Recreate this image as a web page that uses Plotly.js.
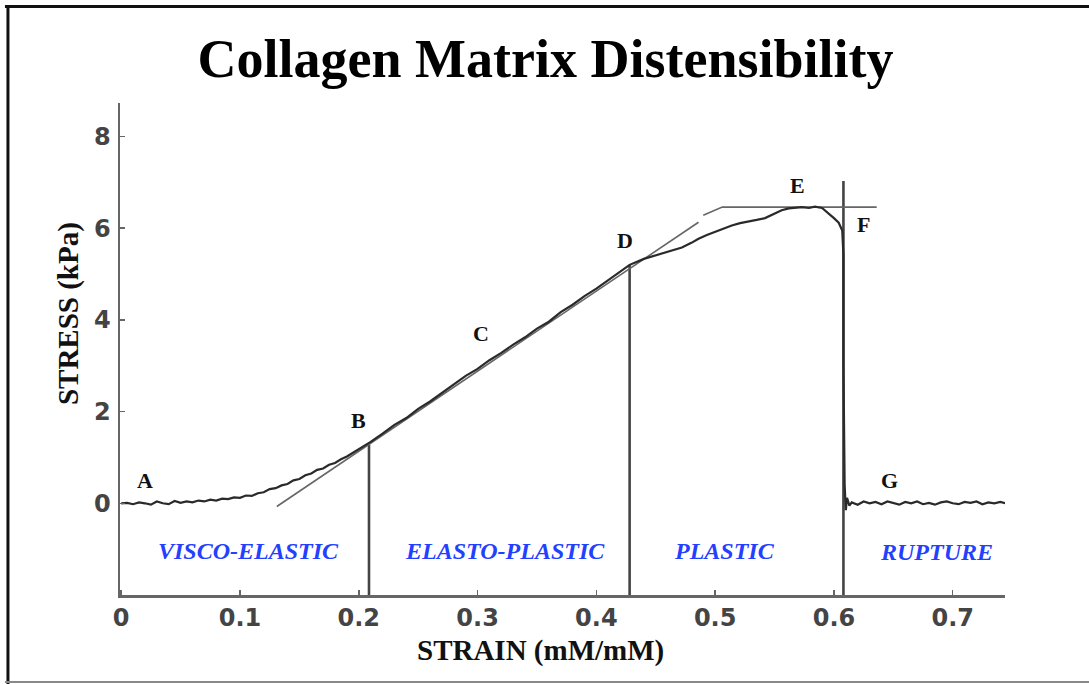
<!DOCTYPE html>
<html>
<head>
<meta charset="utf-8">
<script src="https://cdn.plot.ly/plotly-3.0.1.min.js"></script>
<style>
html,body{margin:0;padding:0;background:#fff;}
#chart{width:1089px;height:684px;}
</style>
</head>
<body>
<div id="chart"></div>
<script>
// ---- data ----
const strain = [0.000,0.005,0.010,0.015,0.020,0.025,0.030,0.035,0.040,0.045,0.050,0.055,0.060,0.065,0.070,0.075,0.080,0.085,0.090,0.095,
  0.100,0.105,0.110,0.115,0.120,0.125,0.130,0.135,0.140,0.145,0.150,0.155,0.160,0.165,0.170,0.175,0.180,0.185,0.190,0.195,
  0.200,0.205,0.210,0.220,0.230,0.240,0.250,0.260,0.270,0.280,0.290,0.300,0.310,0.320,0.330,0.340,0.350,0.360,0.370,0.380,
  0.390,0.400,0.410,0.420,0.428,0.440,0.452,0.462,0.472,0.480,0.486,0.493,0.500,0.507,0.514,0.521,0.528,0.535,0.542,0.546,
  0.550,0.556,0.562,0.568,0.573,0.579,0.584,0.590,0.595,0.600,0.604,0.607,0.608,0.608,0.609,0.610,0.611,0.613,
  0.615,0.620,0.625,0.630,0.635,0.640,0.645,0.650,0.655,0.660,0.665,0.670,0.675,0.680,0.685,0.690,0.695,0.700,0.705,0.710,
  0.715,0.720,0.725,0.730,0.735,0.740,0.745];
const stress = [0.00,0.01,-0.02,0.02,0.00,-0.03,0.04,0.00,-0.02,0.05,0.01,0.04,0.02,0.06,0.04,0.08,0.06,0.10,0.09,0.13,
  0.12,0.17,0.16,0.22,0.24,0.31,0.33,0.39,0.42,0.50,0.53,0.61,0.65,0.73,0.76,0.84,0.88,0.96,1.02,1.10,
  1.17,1.26,1.34,1.52,1.71,1.86,2.06,2.22,2.41,2.58,2.78,2.93,3.12,3.28,3.46,3.62,3.81,3.96,4.17,4.33,
  4.52,4.68,4.87,5.04,5.20,5.33,5.43,5.50,5.58,5.68,5.77,5.85,5.92,5.99,6.06,6.11,6.14,6.18,6.22,6.27,
  6.32,6.39,6.43,6.45,6.46,6.44,6.47,6.44,6.34,6.22,6.12,5.95,5.40,3.00,0.40,-0.15,0.12,-0.05,
  0.02,-0.03,0.04,0.00,0.03,-0.02,0.04,0.01,-0.03,0.03,0.00,0.04,-0.02,0.01,-0.03,0.02,0.04,0.00,-0.02,0.03,
  0.01,0.04,-0.02,0.02,0.00,0.03,0.00];

// elastic tangent and yield/plateau guide lines
const tangentStrain = [0.131, 0.486];
const tangentStress = [-0.07, 6.13];
const yieldStrain = [0.490, 0.506, 0.636];
const yieldStress = [6.28, 6.46, 6.46];

// vertical boundary markers (B, D, F)
const boundaryStrain = [0.2086, 0.428, 0.608];
const boundaryTop = [1.28, 5.20, 7.03];
const axisBottom = -2.0;

// point labels
const pointNames = ['A','B','C','D','E','F','G'];
const pointX = [0.020, 0.200, 0.303, 0.424, 0.569, 0.625, 0.647];
const pointY = [0.50, 1.81, 3.71, 5.74, 6.92, 6.07, 0.50];

// region labels
const regionNames = ['VISCO-ELASTIC','ELASTO-PLASTIC','PLASTIC','RUPTURE'];
const regionX = [0.107, 0.323, 0.508, 0.686];
const regionY = [-1.03, -1.03, -1.03, -1.07];

// ticks
const xTicks = [0,0.1,0.2,0.3,0.4,0.5,0.6,0.7];
const xTickText = ['0','0.1','0.2','0.3','0.4','0.5','0.6','0.7'];
const yTicks = [0,2,4,6,8];
const yTickText = ['0','2','4','6','8'];

// ---- build traces ----
const traces = [];
boundaryStrain.forEach((x,i)=>{
  traces.push({x:[x,x], y:[axisBottom, boundaryTop[i]], mode:'lines',
    line:{color:'#444', width:2.6}, hoverinfo:'skip', showlegend:false});
});
traces.push({x:tangentStrain, y:tangentStress, mode:'lines', line:{color:'#666', width:1.6}, hoverinfo:'skip', showlegend:false});
traces.push({x:yieldStrain, y:yieldStress, mode:'lines', line:{color:'#666', width:1.6}, hoverinfo:'skip', showlegend:false});
traces.push({x:strain, y:stress, mode:'lines', line:{color:'#2a2a2a', width:2.2}, hoverinfo:'skip', showlegend:false});

const serif = 'Liberation Serif, Times New Roman, serif';
const annotations = [];
pointNames.forEach((t,i)=>{
  annotations.push({x:pointX[i], y:pointY[i], xref:'x', yref:'y', text:t, showarrow:false,
    xanchor:'center', yanchor:'middle',
    font:{family:serif, size:22, color:'#111', weight:'bold'}});
});
regionNames.forEach((t,i)=>{
  annotations.push({x:regionX[i], y:regionY[i], xref:'x', yref:'y', text:'<i>'+t+'</i>', showarrow:false,
    xanchor:'center', yanchor:'middle',
    font:{family:serif, size:24, color:'#2340ff', weight:'bold'}});
});
annotations.push({x:0.4757, y:-0.1138, xref:'paper', yref:'paper', text:'STRAIN (mM/mM)', showarrow:false,
  xanchor:'center', yanchor:'middle',
  font:{family:serif, size:29, color:'#111', weight:'bold'}});
annotations.push({x:-0.0588, y:0.573, xref:'paper', yref:'paper', text:'STRESS (kPa)', textangle:-90, showarrow:false,
  xanchor:'center', yanchor:'middle',
  font:{family:serif, size:29, color:'#111', weight:'bold'}});

const frameShapes = [
  {type:'line', xref:'paper', yref:'paper', x0:-0.1266, x1:-0.1266, y0:1.199, y1:-0.185, line:{color:'#111', width:3}},
  {type:'line', xref:'paper', yref:'paper', x0:-0.13, x1:1.12, y0:1.1961, y1:1.1961, line:{color:'#111', width:3}},
  {type:'line', xref:'paper', yref:'paper', x0:-0.13, x1:1.12, y0:-0.1768, y1:-0.1768, line:{color:'#888', width:2}}
];

const layout = {
  width:1089, height:684,
  margin:{l:120, r:84, t:103, b:89},
  paper_bgcolor:'#fff', plot_bgcolor:'#fff',
  showlegend:false,
  title:{text:'Collagen Matrix Distensibility', x:0.501, xref:'container', xanchor:'center',
    y:0.915, yref:'container', yanchor:'middle',
    font:{family:serif, size:54, color:'#000', weight:'bold'}},
  xaxis:{range:[-0.001, 0.744], showgrid:false, zeroline:false, showline:true, linecolor:'#666', linewidth:2.5,
    ticks:'inside', ticklen:5, tickwidth:1.5, tickcolor:'#666', tickvals:xTicks, ticktext:xTickText,
    tickfont:{family:'DejaVu Sans', size:24, color:'#444', weight:'bold'}, ticklabelstandoff:0, fixedrange:true},
  yaxis:{range:[-2.0, 8.73], showgrid:false, zeroline:false, showline:true, linecolor:'#666', linewidth:2.5,
    ticks:'inside', ticklen:5, tickwidth:1.5, tickcolor:'#666', tickvals:yTicks, ticktext:yTickText,
    tickfont:{family:'DejaVu Sans', size:24, color:'#444', weight:'bold'}, ticklabelstandoff:2, fixedrange:true},
  annotations:annotations,
  shapes:frameShapes
};
Plotly.newPlot('chart', traces, layout, {displayModeBar:false, staticPlot:true});
</script>
</body>
</html>
